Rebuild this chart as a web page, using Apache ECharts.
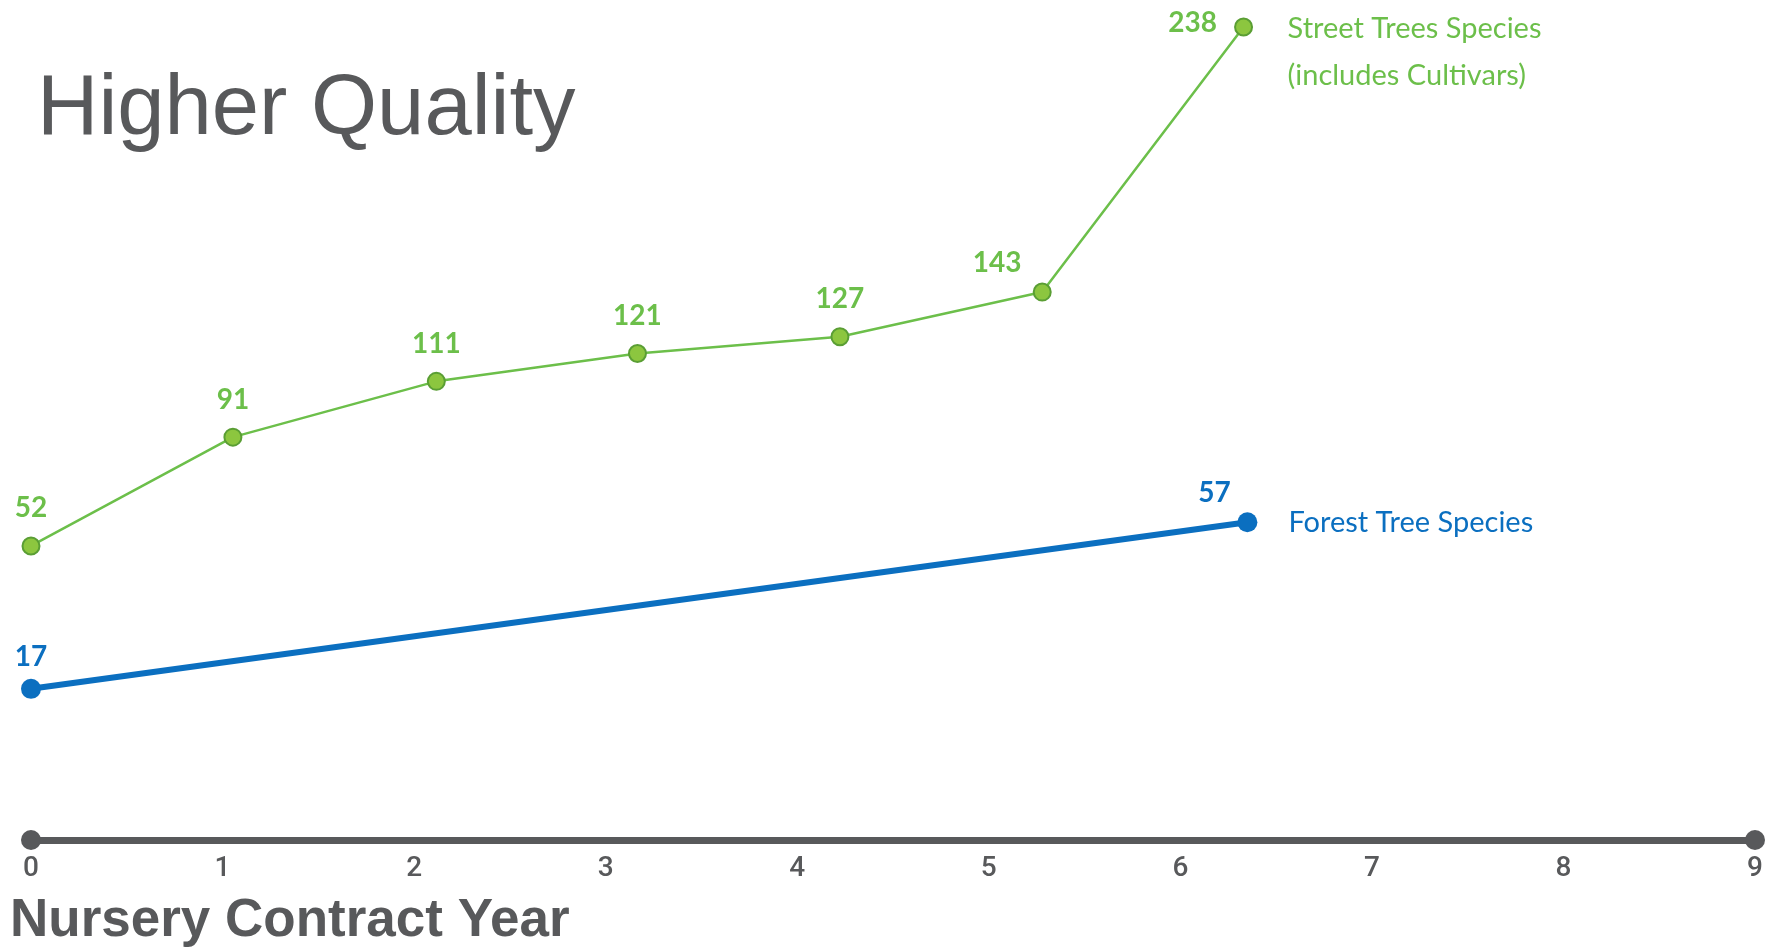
<!DOCTYPE html>
<html>
<head>
<meta charset="utf-8">
<script src="https://cdn.jsdelivr.net/npm/echarts@6/dist/echarts.min.js"></script>
<style>
html,body{margin:0;padding:0;background:#fff;}
#chart{width:1773px;height:947px;}
</style>
</head>
<body>
<div id="chart"></div>
<script>
// ---- data ----
const streetYears  = [0, 1.054, 2.116, 3.166, 4.223, 5.279, 6.33];
const streetValues = [52, 91, 111, 121, 127, 143, 238];
const forestYears  = [0, 6.35];
const forestValues = [17, 57];
const xTicks = [0, 1, 2, 3, 4, 5, 6, 7, 8, 9];
const streetName = 'Street Trees Species';
const streetSub = '(includes Cultivars)';
const forestName = 'Forest Tree Species';
const chartTitle = 'Higher Quality';
const axisTitle = 'Nursery Contract Year';

const GREEN = '#6cbf4a';
const GREEN_FILL = '#8cc63f';
const GREEN_EDGE = '#5a9e34';
const BLUE = '#0b6fc0';
const GRAY = '#58595b';

const labelFont = 'Lato, "Open Sans", sans-serif';

// per-point label placement overrides (by index)
const streetData = streetYears.map((x, i) => {
  const item = { value: [x, streetValues[i]] };
  if (i === streetValues.length - 1) {
    item.label = { position: 'left', distance: 17, offset: [0, -4] };
  } else if (i === streetValues.length - 2) {
    item.label = { position: 'top', distance: 6, offset: [-45, 0] };
  }
  return item;
});
const forestData = forestYears.map((x, i) => {
  const item = { value: [x, forestValues[i]] };
  if (i === forestValues.length - 1) {
    item.label = { position: 'top', distance: 5, offset: [-33, 0] };
  }
  return item;
});

const chart = echarts.init(document.getElementById('chart'));

chart.setOption({
  animation: false,
  backgroundColor: '#ffffff',
  grid: { left: 31, right: 18, top: 0, bottom: 107, containLabel: false },
  xAxis: {
    type: 'value',
    min: xTicks[0],
    max: xTicks[xTicks.length - 1],
    interval: 1,
    axisLine: {
      show: true,
      onZero: false,
      lineStyle: { color: GRAY, width: 7 },
      symbol: ['circle', 'circle'],
      symbolSize: [20, 20]
    },
    axisTick: { show: false },
    splitLine: { show: false },
    axisLabel: {
      color: GRAY,
      fontSize: 28,
      fontWeight: 500,
      fontFamily: 'Roboto, sans-serif',
      margin: 15
    }
  },
  yAxis: [
    { type: 'value', min: -53.4, max: 247.7, show: false, splitLine: { show: false } },
    { type: 'value', min: -19.3, max: 182.4, show: false, splitLine: { show: false } }
  ],
  graphic: [
    {
      type: 'text', left: 37, top: 68,
      style: { text: chartTitle, fill: GRAY, font: '400 85px "Liberation Sans", Arial, sans-serif' }
    },
    {
      type: 'text', left: 10, top: 895,
      style: { text: axisTitle, fill: GRAY, font: '700 53px "Liberation Sans", Arial, sans-serif' }
    }
  ],
  series: [
    {
      name: streetName,
      type: 'line',
      yAxisIndex: 0,
      data: streetData,
      symbol: 'circle',
      symbolSize: 17,
      lineStyle: { color: GREEN, width: 2.5 },
      itemStyle: { color: GREEN_FILL, borderColor: GREEN_EDGE, borderWidth: 2 },
      label: {
        show: true,
        position: 'top',
        distance: 14,
        color: GREEN,
        fontSize: 28,
        fontWeight: 'bold',
        fontFamily: labelFont,
        formatter: p => p.value[1]
      },
      endLabel: {
        show: true,
        formatter: streetName + '\n' + streetSub,
        color: GREEN,
        fontSize: 29,
        fontFamily: labelFont,
        lineHeight: 47,
        align: 'left',
        verticalAlign: 'top',
        offset: [36, -22]
      },
      z: 3
    },
    {
      name: forestName,
      type: 'line',
      yAxisIndex: 1,
      data: forestData,
      symbol: 'circle',
      symbolSize: 20,
      lineStyle: { color: BLUE, width: 6 },
      itemStyle: { color: BLUE },
      label: {
        show: true,
        position: 'top',
        distance: 8,
        color: BLUE,
        fontSize: 28,
        fontWeight: 'bold',
        fontFamily: labelFont,
        formatter: p => p.value[1]
      },
      endLabel: {
        show: true,
        formatter: forestName,
        color: BLUE,
        fontSize: 29,
        fontFamily: labelFont,
        offset: [33, 0]
      },
      z: 2
    }
  ]
});
</script>
</body>
</html>
